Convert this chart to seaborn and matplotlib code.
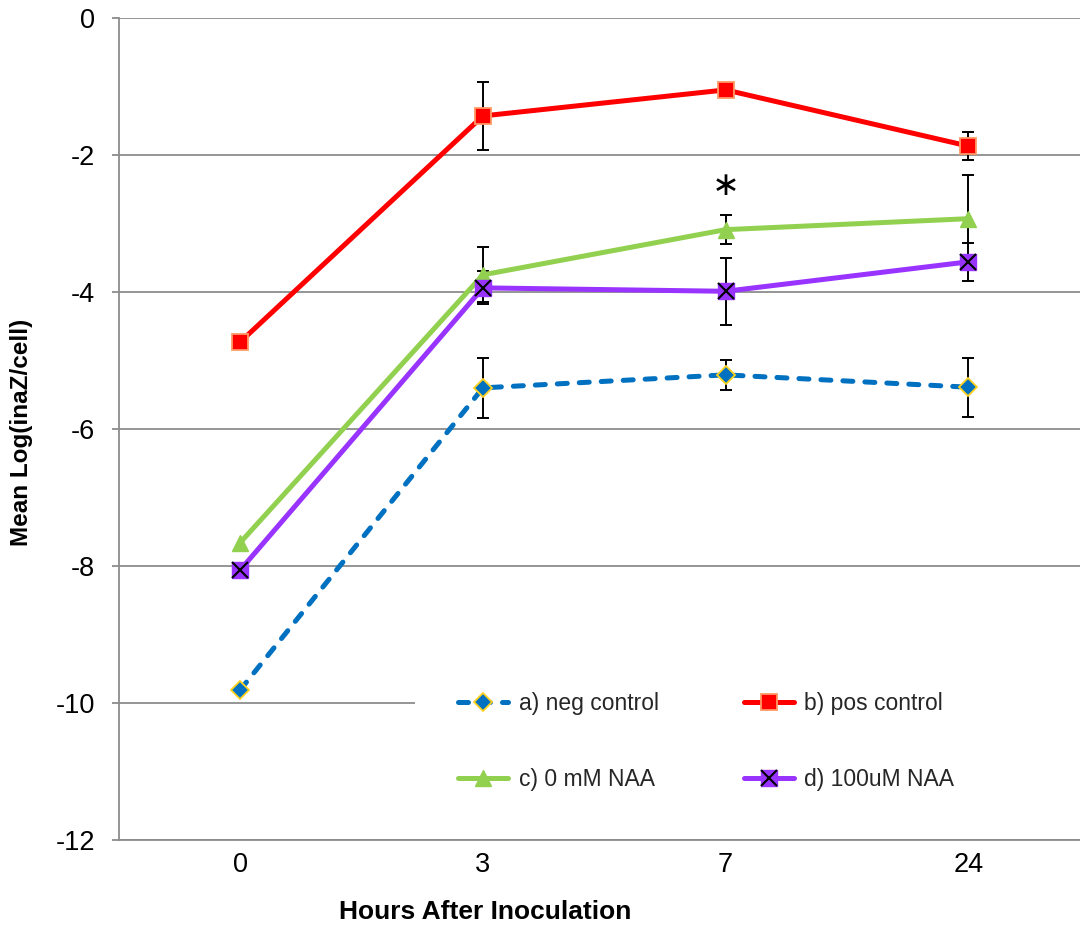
import matplotlib
matplotlib.use("Agg")
import matplotlib.pyplot as plt
import seaborn as sns
import numpy as np
import pandas as pd
from matplotlib.lines import Line2D
from matplotlib.patches import Rectangle

hours = ["0", "3", "7", "24"]
neg_control = [-9.81, -5.40, -5.21, -5.39]
pos_control = [-4.73, -1.43, -1.05, -1.87]
naa_0mM = [-7.66, -3.75, -3.09, -2.93]
naa_100uM = [-8.06, -3.94, -3.99, -3.56]

neg_err = [0.0, 0.44, 0.22, 0.43]
pos_err = [0.0, 0.50, 0.0, 0.20]
naa0_err = [0.0, 0.40, 0.21, 0.64]
naa100_err = [0.0, 0.24, 0.49, 0.28]

labels = ["a) neg control", "b) pos control", "c) 0 mM NAA", "d) 100uM NAA"]

sns.set_theme(style="white")
plt.rcParams["font.family"] = ["Liberation Sans", "DejaVu Sans"]
plt.rcParams["axes.unicode_minus"] = False

fig = plt.figure(figsize=(10.8, 9.27), dpi=100)
ax = fig.add_axes([0.110, 0.0939, 0.890, 0.8867])

xpos = np.arange(len(hours))
series = [
    (neg_control, neg_err, dict(color="#0070C0", ls=(0, (2.0, 2.4)), marker="D", ms=9,
                                mfc="#0070C0", mec="#FFD21F", mew=1.3)),
    (pos_control, pos_err, dict(color="#FF0000", ls="-", marker="s", ms=11,
                                mfc="#FF0000", mec="#FF9966", mew=1.3)),
    (naa_0mM, naa0_err, dict(color="#92D050", ls="-", marker="^", ms=11,
                             mfc="#92D050", mec="#92D050", mew=1)),
    (naa_100uM, naa100_err, dict(color="#9933FF", ls="-", marker="s", ms=11,
                                 mfc="#9933FF", mec="#9933FF", mew=1)),
]

# error bars
for vals, errs, st in series:
    e = np.array(errs)
    mask = e > 0
    ax.errorbar(xpos[mask], np.array(vals)[mask], yerr=e[mask], fmt="none",
                ecolor="black", elinewidth=1.4, capsize=4, capthick=1.4, zorder=2)

handles = []
for (vals, errs, st), lab in zip(series, labels):
    df = pd.DataFrame({"x": xpos, "y": vals})
    sns.lineplot(data=df, x="x", y="y", ax=ax, color=st["color"], linewidth=3.6,
                 linestyle=st["ls"], marker=st["marker"], markersize=st["ms"],
                 markerfacecolor=st["mfc"], markeredgecolor=st["mec"],
                 markeredgewidth=st["mew"], dash_capstyle="round", zorder=3)
    h = Line2D([], [], color=st["color"], lw=3.6, ls=st["ls"], marker=st["marker"],
               ms=st["ms"], mfc=st["mfc"], mec=st["mec"], mew=st["mew"],
               dash_capstyle="round", solid_capstyle="round")
    handles.append(h)

# black X over purple squares
ax.plot(xpos, naa_100uM, ls="none", marker="x", ms=11, mew=1.5, color="black", zorder=4)
xh = Line2D([], [], ls="none", marker="x", ms=11, mew=1.5, color="black")
handles[3] = (handles[3], xh)

# asterisk
ax.text(2, -2.45, "\u2217", ha="center", va="center", fontsize=24, color="black",
        family=["DejaVu Sans"])

ax.set_xlim(-0.5, 3.46)
ax.set_ylim(-12, 0)
ax.set_yticks(np.arange(-12, 1, 2))
ax.set_xticks(xpos)
ax.set_xticklabels(hours)
ax.yaxis.grid(True, color="#8C8C8C", lw=1.3)
ax.xaxis.grid(False)
for s in ["top", "right"]:
    ax.spines[s].set_visible(False)
ax.spines["left"].set_color("#8C8C8C")
ax.spines["left"].set_linewidth(1.3)
ax.spines["bottom"].set_color("#8C8C8C")
ax.spines["bottom"].set_linewidth(1.3)
ax.tick_params(axis="y", length=5, width=1.3, color="#8C8C8C", left=True,
               labelsize=19.5, pad=12, labelcolor="black")
ax.tick_params(axis="x", length=0, labelsize=19.5, pad=9, labelcolor="black")
ax.set_xlabel("Hours After Inoculation", fontsize=19, fontweight="bold", color="black")
ax.set_ylabel("Mean Log(inaZ/cell)", fontsize=17.5, fontweight="bold", color="black")
ax.xaxis.set_label_coords((485 - 119) / 961, -(912 - 840) / 822)
ax.xaxis.label.set_va("center")
ax.yaxis.set_label_coords((22 - 119) / 961, (840 - 432) / 822)
ax.yaxis.label.set_va("center")

# white legend background covering gridline
ax.add_patch(Rectangle(((415 - 119) / 961, (840 - 800) / 822), 1.0, (800 - 665) / 822,
                       transform=ax.transAxes, facecolor="white", edgecolor="none",
                       zorder=2.5))

order = [0, 2, 1, 3]
leg = ax.legend([handles[i] for i in order], [labels[i] for i in order], ncol=2,
                loc="center left", bbox_to_anchor=(458 / 1080, 1 - 741.5 / 927),
                bbox_transform=fig.transFigure, frameon=False,
                prop={"size": 16.5}, handlelength=2.2,
                labelspacing=2.35, columnspacing=3.7, handletextpad=0.45,
                borderpad=0, borderaxespad=0)
leg.set_zorder(5)

fig.savefig("out.png", dpi=100)
